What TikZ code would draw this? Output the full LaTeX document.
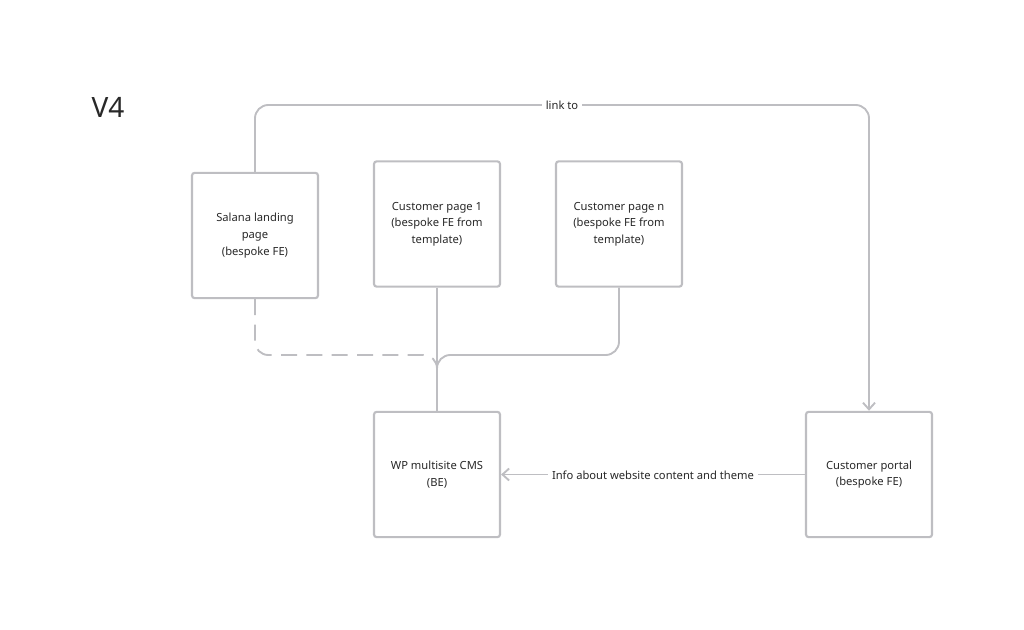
\documentclass[tikz,border=0pt]{standalone}
\usepackage{fontspec}
\setmainfont{Noto Sans}
\usetikzlibrary{arrows.meta}
\definecolor{linegray}{RGB}{190,190,194}
\definecolor{textgray}{RGB}{40,40,40}
\tikzset{
    box/.style={draw=linegray, line width=1.6pt, rounded corners=2pt, minimum width=94.5pt, minimum height=94pt, align=center, font=\fontsize{8.4}{12.5}\selectfont, text=textgray},
    link/.style={draw=linegray, line width=1.4pt, rounded corners=10pt},
    tag/.style={fill=white, inner sep=3pt, font=\fontsize{8.4}{10}\selectfont, text=textgray}
}
\begin{document}
\begin{tikzpicture}[x=0.75pt, y=-0.75pt]
    \useasboundingbox (0,0) rectangle (1024,630);

    % Title
    \node[font=\fontsize{21}{24}\selectfont, text=textgray] (title) at (108,107) {V4};

    % Boxes
    \node[box] (landing) at (255,235.5) {Salana landing\\page\\(bespoke FE)};
    \node[box] (cust1) at (437,224) {Customer page 1\\(bespoke FE from\\template)};
    \node[box] (custn) at (619,224) {Customer page n\\(bespoke FE from\\template)};
    \node[box] (cms) at (437,474.5) {WP multisite CMS\\(BE)};
    \node[box] (portal) at (869,474.5) {Customer portal\\(bespoke FE)};

    % Link to portal
    \draw[link, -{Straight Barb[length=5pt, width=9pt]}] (landing.north) -- (255,105) -- (869,105) -- (portal.north);
    \node[tag] (linkto) at (562,105) {link to};

    % Pages into the CMS
    \draw[link] (cust1.south) -- (cms.north);
    \draw[link, dashed, dash pattern=on 12pt off 7pt] (landing.south) -- (255,355) -- (437,355) -- (437,372);
    \draw[link] (custn.south) -- (619,355) -- (437,355) -- (437,372);

    % Info back to the CMS
    \draw[link, -{Straight Barb[length=5pt, width=9pt]}] (portal.west) -- (cms.east);
    \node[tag] (info) at (653,475) {Info about website content and theme};
\end{tikzpicture}
\end{document}
